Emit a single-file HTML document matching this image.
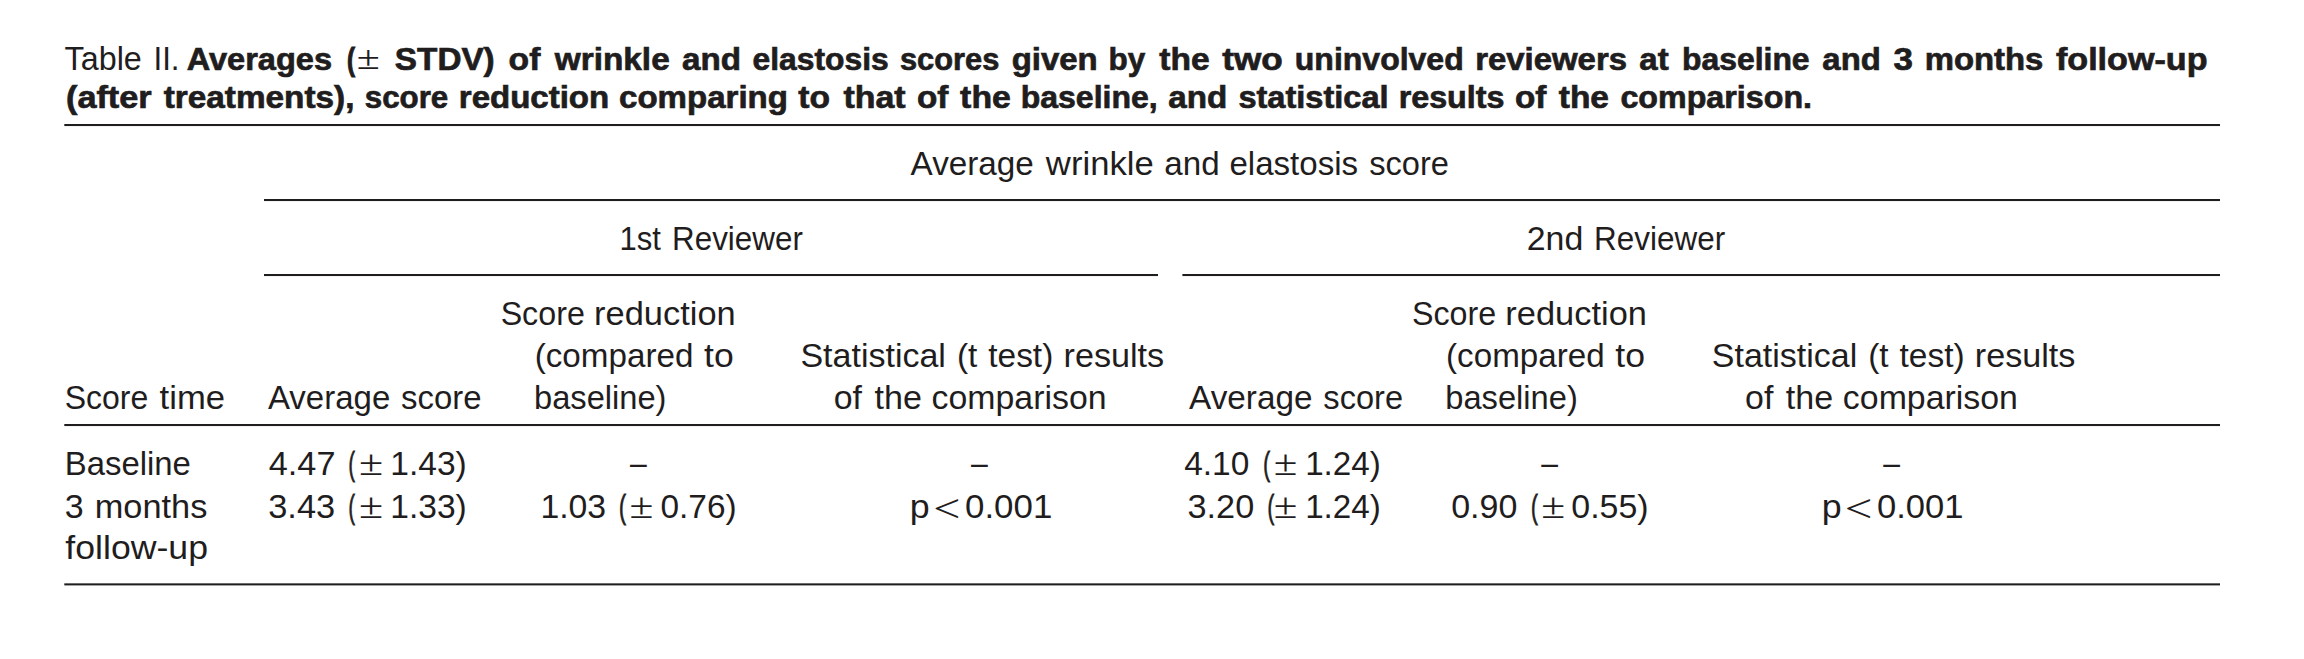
<!DOCTYPE html>
<html lang="en">
<head>
<meta charset="utf-8">
<title>Table II</title>
<style>
html,body{margin:0;padding:0;background:#fff}
body{width:2304px;height:659px;overflow:hidden}
svg{display:block}
text{fill:#1f1d1d;white-space:pre}
.rule{fill:#1f1d1d}
.r{font-family:"Liberation Sans", sans-serif;font-size:33.5px;font-weight:400}
.b{font-family:"Liberation Sans", sans-serif;font-size:32px;font-weight:700;stroke:#1f1d1d;stroke-width:0.7px}
.l{font-family:"Liberation Sans", sans-serif;font-size:33.5px;font-weight:400}
.m{font-family:"Liberation Serif", serif;font-size:35px;font-weight:400}
.n{font-family:"Liberation Serif", serif;font-size:34px;font-weight:400}
.k{font-family:"Liberation Serif", serif;font-size:41px;font-weight:400}
.d{font-family:"Liberation Sans", sans-serif;font-size:33.5px;font-weight:400}
.p{font-family:"Liberation Sans", sans-serif;font-size:33.5px;font-weight:400;stroke:#1f1d1d;stroke-width:0.9px}
.q{font-family:"Liberation Sans", sans-serif;font-size:32px;font-weight:700;stroke:#1f1d1d;stroke-width:1.1px}
</style>
</head>
<body>
<svg width="2304" height="659" viewBox="0 0 2304 659" role="img" aria-label="Table II">
<rect x="0" y="0" width="2304" height="659" fill="#ffffff"/>
<rect class="rule" x="64.3" y="124" width="2155.7" height="2.05"/>
<rect class="rule" x="264" y="199" width="1956" height="2.05"/>
<rect class="rule" x="264" y="274" width="894" height="2.05"/>
<rect class="rule" x="1182.4" y="274" width="1037.6" height="2.05"/>
<rect class="rule" x="64.3" y="424" width="2155.7" height="2.05"/>
<rect class="rule" x="64.3" y="583.35" width="2155.7" height="2.05"/>
<text><tspan class="r" x="64.59" y="70" textLength="77.22" lengthAdjust="spacingAndGlyphs">Table</tspan> <tspan class="r" x="153.46" y="70" textLength="26.12" lengthAdjust="spacingAndGlyphs">II.</tspan> <tspan class="b" x="186.65" y="70" textLength="145.43" lengthAdjust="spacingAndGlyphs">Averages</tspan> <tspan class="q" x="347.05" y="70" textLength="8.06" lengthAdjust="spacingAndGlyphs">(</tspan><tspan class="n" x="356.69" y="69" textLength="23.07" lengthAdjust="spacingAndGlyphs">±</tspan> <tspan class="b" x="394.88" y="70" textLength="99.82" lengthAdjust="spacingAndGlyphs">STDV)</tspan> <tspan class="b" x="508.61" y="70" textLength="31.77" lengthAdjust="spacingAndGlyphs">of</tspan> <tspan class="b" x="554.82" y="70" textLength="114.85" lengthAdjust="spacingAndGlyphs">wrinkle</tspan> <tspan class="b" x="682.05" y="70" textLength="59.00" lengthAdjust="spacingAndGlyphs">and</tspan> <tspan class="b" x="752.57" y="70" textLength="136.10" lengthAdjust="spacingAndGlyphs">elastosis</tspan> <tspan class="b" x="899.95" y="70" textLength="99.35" lengthAdjust="spacingAndGlyphs">scores</tspan> <tspan class="b" x="1011.68" y="70" textLength="86.04" lengthAdjust="spacingAndGlyphs">given</tspan> <tspan class="b" x="1108.58" y="70" textLength="36.69" lengthAdjust="spacingAndGlyphs">by</tspan> <tspan class="b" x="1159.27" y="70" textLength="50.33" lengthAdjust="spacingAndGlyphs">the</tspan> <tspan class="b" x="1222.26" y="70" textLength="60.46" lengthAdjust="spacingAndGlyphs">two</tspan> <tspan class="b" x="1294.83" y="70" textLength="168.85" lengthAdjust="spacingAndGlyphs">uninvolved</tspan> <tspan class="b" x="1475.17" y="70" textLength="151.85" lengthAdjust="spacingAndGlyphs">reviewers</tspan> <tspan class="b" x="1639.36" y="70" textLength="29.35" lengthAdjust="spacingAndGlyphs">at</tspan> <tspan class="b" x="1682.05" y="70" textLength="127.54" lengthAdjust="spacingAndGlyphs">baseline</tspan> <tspan class="b" x="1822.38" y="70" textLength="58.45" lengthAdjust="spacingAndGlyphs">and</tspan> <tspan class="b" x="1893.51" y="70" textLength="19.43" lengthAdjust="spacingAndGlyphs">3</tspan> <tspan class="b" x="1924.69" y="70" textLength="118.68" lengthAdjust="spacingAndGlyphs">months</tspan> <tspan class="b" x="2055.93" y="70" textLength="151.59" lengthAdjust="spacingAndGlyphs">follow-up</tspan></text>
<text><tspan class="b" x="65.97" y="108" textLength="85.73" lengthAdjust="spacingAndGlyphs">(after</tspan> <tspan class="b" x="163.68" y="108" textLength="190.72" lengthAdjust="spacingAndGlyphs">treatments),</tspan> <tspan class="b" x="364.79" y="108" textLength="83.49" lengthAdjust="spacingAndGlyphs">score</tspan> <tspan class="b" x="458.79" y="108" textLength="150.42" lengthAdjust="spacingAndGlyphs">reduction</tspan> <tspan class="b" x="619.04" y="108" textLength="168.90" lengthAdjust="spacingAndGlyphs">comparing</tspan> <tspan class="b" x="798.27" y="108" textLength="31.74" lengthAdjust="spacingAndGlyphs">to</tspan> <tspan class="b" x="843.44" y="108" textLength="62.12" lengthAdjust="spacingAndGlyphs">that</tspan> <tspan class="b" x="917.03" y="108" textLength="31.41" lengthAdjust="spacingAndGlyphs">of</tspan> <tspan class="b" x="960.14" y="108" textLength="50.70" lengthAdjust="spacingAndGlyphs">the</tspan> <tspan class="b" x="1020.71" y="108" textLength="136.99" lengthAdjust="spacingAndGlyphs">baseline,</tspan> <tspan class="b" x="1168.30" y="108" textLength="59.00" lengthAdjust="spacingAndGlyphs">and</tspan> <tspan class="b" x="1238.42" y="108" textLength="150.17" lengthAdjust="spacingAndGlyphs">statistical</tspan> <tspan class="b" x="1398.65" y="108" textLength="105.84" lengthAdjust="spacingAndGlyphs">results</tspan> <tspan class="b" x="1515.03" y="108" textLength="31.36" lengthAdjust="spacingAndGlyphs">of</tspan> <tspan class="b" x="1558.77" y="108" textLength="50.23" lengthAdjust="spacingAndGlyphs">the</tspan> <tspan class="b" x="1620.42" y="108" textLength="191.65" lengthAdjust="spacingAndGlyphs">comparison.</tspan></text>
<text><tspan class="r" x="910.57" y="175" textLength="123.27" lengthAdjust="spacingAndGlyphs">Average</tspan> <tspan class="r" x="1045.88" y="175" textLength="107.85" lengthAdjust="spacingAndGlyphs">wrinkle</tspan> <tspan class="r" x="1164.29" y="175" textLength="55.35" lengthAdjust="spacingAndGlyphs">and</tspan> <tspan class="r" x="1229.40" y="175" textLength="128.71" lengthAdjust="spacingAndGlyphs">elastosis</tspan> <tspan class="r" x="1369.21" y="175" textLength="79.78" lengthAdjust="spacingAndGlyphs">score</tspan></text>
<text><tspan class="l" x="619.50" y="250" textLength="41.36" lengthAdjust="spacingAndGlyphs">1st</tspan> <tspan class="l" x="672.07" y="250" textLength="130.82" lengthAdjust="spacingAndGlyphs">Reviewer</tspan></text>
<text><tspan class="l" x="1526.71" y="250" textLength="56.55" lengthAdjust="spacingAndGlyphs">2nd</tspan> <tspan class="l" x="1594.06" y="250" textLength="131.10" lengthAdjust="spacingAndGlyphs">Reviewer</tspan></text>
<text><tspan class="r" x="64.69" y="409" textLength="83.59" lengthAdjust="spacingAndGlyphs">Score</tspan> <tspan class="r" x="159.60" y="409" textLength="65.49" lengthAdjust="spacingAndGlyphs">time</tspan></text>
<text><tspan class="r" x="267.94" y="409" textLength="122.39" lengthAdjust="spacingAndGlyphs">Average</tspan> <tspan class="r" x="401.08" y="409" textLength="80.50" lengthAdjust="spacingAndGlyphs">score</tspan></text>
<text><tspan class="r" x="500.63" y="325" textLength="84.20" lengthAdjust="spacingAndGlyphs">Score</tspan> <tspan class="r" x="594.07" y="325" textLength="141.61" lengthAdjust="spacingAndGlyphs">reduction</tspan></text>
<text><tspan class="r" x="534.72" y="367" textLength="158.67" lengthAdjust="spacingAndGlyphs">(compared</tspan> <tspan class="r" x="704.08" y="367" textLength="29.66" lengthAdjust="spacingAndGlyphs">to</tspan></text>
<text><tspan class="r" x="534.01" y="409" textLength="132.48" lengthAdjust="spacingAndGlyphs">baseline)</tspan></text>
<text><tspan class="r" x="800.46" y="367" textLength="145.42" lengthAdjust="spacingAndGlyphs">Statistical</tspan> <tspan class="r" x="956.92" y="367" textLength="20.38" lengthAdjust="spacingAndGlyphs">(t</tspan> <tspan class="r" x="988.29" y="367" textLength="65.00" lengthAdjust="spacingAndGlyphs">test)</tspan> <tspan class="r" x="1063.51" y="367" textLength="100.66" lengthAdjust="spacingAndGlyphs">results</tspan></text>
<text><tspan class="r" x="833.79" y="409" textLength="28.24" lengthAdjust="spacingAndGlyphs">of</tspan> <tspan class="r" x="874.45" y="409" textLength="47.43" lengthAdjust="spacingAndGlyphs">the</tspan> <tspan class="r" x="931.54" y="409" textLength="175.07" lengthAdjust="spacingAndGlyphs">comparison</tspan></text>
<text><tspan class="r" x="1189.04" y="409" textLength="123.48" lengthAdjust="spacingAndGlyphs">Average</tspan> <tspan class="r" x="1323.36" y="409" textLength="79.71" lengthAdjust="spacingAndGlyphs">score</tspan></text>
<text><tspan class="r" x="1411.96" y="325" textLength="84.21" lengthAdjust="spacingAndGlyphs">Score</tspan> <tspan class="r" x="1505.35" y="325" textLength="141.64" lengthAdjust="spacingAndGlyphs">reduction</tspan></text>
<text><tspan class="r" x="1446.06" y="367" textLength="158.63" lengthAdjust="spacingAndGlyphs">(compared</tspan> <tspan class="r" x="1615.31" y="367" textLength="29.74" lengthAdjust="spacingAndGlyphs">to</tspan></text>
<text><tspan class="r" x="1445.22" y="409" textLength="132.56" lengthAdjust="spacingAndGlyphs">baseline)</tspan></text>
<text><tspan class="r" x="1711.82" y="367" textLength="145.40" lengthAdjust="spacingAndGlyphs">Statistical</tspan> <tspan class="r" x="1868.22" y="367" textLength="20.39" lengthAdjust="spacingAndGlyphs">(t</tspan> <tspan class="r" x="1899.53" y="367" textLength="65.08" lengthAdjust="spacingAndGlyphs">test)</tspan> <tspan class="r" x="1974.81" y="367" textLength="100.64" lengthAdjust="spacingAndGlyphs">results</tspan></text>
<text><tspan class="r" x="1745.05" y="409" textLength="28.27" lengthAdjust="spacingAndGlyphs">of</tspan> <tspan class="r" x="1785.80" y="409" textLength="47.39" lengthAdjust="spacingAndGlyphs">the</tspan> <tspan class="r" x="1842.88" y="409" textLength="175.07" lengthAdjust="spacingAndGlyphs">comparison</tspan></text>
<text><tspan class="r" x="64.79" y="475" textLength="126.07" lengthAdjust="spacingAndGlyphs">Baseline</tspan></text>
<text><tspan class="r" x="64.82" y="518" textLength="18.91" lengthAdjust="spacingAndGlyphs">3</tspan> <tspan class="r" x="94.69" y="518" textLength="112.61" lengthAdjust="spacingAndGlyphs">months</tspan></text>
<text><tspan class="r" x="65.29" y="559" textLength="142.78" lengthAdjust="spacingAndGlyphs">follow-up</tspan></text>
<text><tspan class="r" x="268.79" y="475" textLength="66.66" lengthAdjust="spacingAndGlyphs">4.47</tspan> <tspan class="p" x="348.54" y="475" textLength="6.42" lengthAdjust="spacingAndGlyphs">(</tspan><tspan class="m" x="359.07" y="475" textLength="24.18" lengthAdjust="spacingAndGlyphs">±</tspan> <tspan class="r" x="390.31" y="475" textLength="76.49" lengthAdjust="spacingAndGlyphs">1.43)</tspan></text>
<text><tspan class="r" x="268.23" y="518" textLength="67.00" lengthAdjust="spacingAndGlyphs">3.43</tspan> <tspan class="p" x="348.54" y="518" textLength="6.42" lengthAdjust="spacingAndGlyphs">(</tspan><tspan class="m" x="359.07" y="518" textLength="24.18" lengthAdjust="spacingAndGlyphs">±</tspan> <tspan class="r" x="390.31" y="518" textLength="76.49" lengthAdjust="spacingAndGlyphs">1.33)</tspan></text>
<text><tspan class="d" x="630.10" y="474" textLength="16.77" lengthAdjust="spacingAndGlyphs">–</tspan></text>
<text><tspan class="d" x="970.96" y="474" textLength="16.76" lengthAdjust="spacingAndGlyphs">–</tspan></text>
<text><tspan class="d" x="1541.28" y="474" textLength="16.77" lengthAdjust="spacingAndGlyphs">–</tspan></text>
<text><tspan class="d" x="1883.15" y="474" textLength="16.77" lengthAdjust="spacingAndGlyphs">–</tspan></text>
<text><tspan class="r" x="540.41" y="518" textLength="65.75" lengthAdjust="spacingAndGlyphs">1.03</tspan> <tspan class="p" x="619.07" y="518" textLength="7.01" lengthAdjust="spacingAndGlyphs">(</tspan><tspan class="m" x="629.40" y="518" textLength="23.91" lengthAdjust="spacingAndGlyphs">±</tspan> <tspan class="r" x="660.46" y="518" textLength="76.15" lengthAdjust="spacingAndGlyphs">0.76)</tspan></text>
<text><tspan class="r" x="909.67" y="518" textLength="19.92" lengthAdjust="spacingAndGlyphs">p</tspan><tspan class="k" x="933.27" y="522" textLength="27.12" lengthAdjust="spacingAndGlyphs">&lt;</tspan><tspan class="r" x="965.04" y="518" textLength="87.30" lengthAdjust="spacingAndGlyphs">0.001</tspan></text>
<text><tspan class="r" x="1184.19" y="475" textLength="65.12" lengthAdjust="spacingAndGlyphs">4.10</tspan> <tspan class="p" x="1263.28" y="475" textLength="6.81" lengthAdjust="spacingAndGlyphs">(</tspan><tspan class="m" x="1273.75" y="475" textLength="23.59" lengthAdjust="spacingAndGlyphs">±</tspan> <tspan class="r" x="1305.15" y="475" textLength="75.63" lengthAdjust="spacingAndGlyphs">1.24)</tspan></text>
<text><tspan class="r" x="1187.54" y="518" textLength="66.68" lengthAdjust="spacingAndGlyphs">3.20</tspan> <tspan class="p" x="1267.47" y="518" textLength="6.74" lengthAdjust="spacingAndGlyphs">(</tspan><tspan class="m" x="1273.75" y="518" textLength="23.59" lengthAdjust="spacingAndGlyphs">±</tspan> <tspan class="r" x="1305.15" y="518" textLength="75.63" lengthAdjust="spacingAndGlyphs">1.24)</tspan></text>
<text><tspan class="r" x="1451.23" y="518" textLength="66.15" lengthAdjust="spacingAndGlyphs">0.90</tspan> <tspan class="p" x="1530.98" y="518" textLength="6.82" lengthAdjust="spacingAndGlyphs">(</tspan><tspan class="m" x="1541.33" y="518" textLength="23.89" lengthAdjust="spacingAndGlyphs">±</tspan> <tspan class="r" x="1571.30" y="518" textLength="77.36" lengthAdjust="spacingAndGlyphs">0.55)</tspan></text>
<text><tspan class="r" x="1821.67" y="518" textLength="19.92" lengthAdjust="spacingAndGlyphs">p</tspan><tspan class="k" x="1844.77" y="522" textLength="27.61" lengthAdjust="spacingAndGlyphs">&lt;</tspan><tspan class="r" x="1876.97" y="518" textLength="86.56" lengthAdjust="spacingAndGlyphs">0.001</tspan></text>
</svg>
</body>
</html>
